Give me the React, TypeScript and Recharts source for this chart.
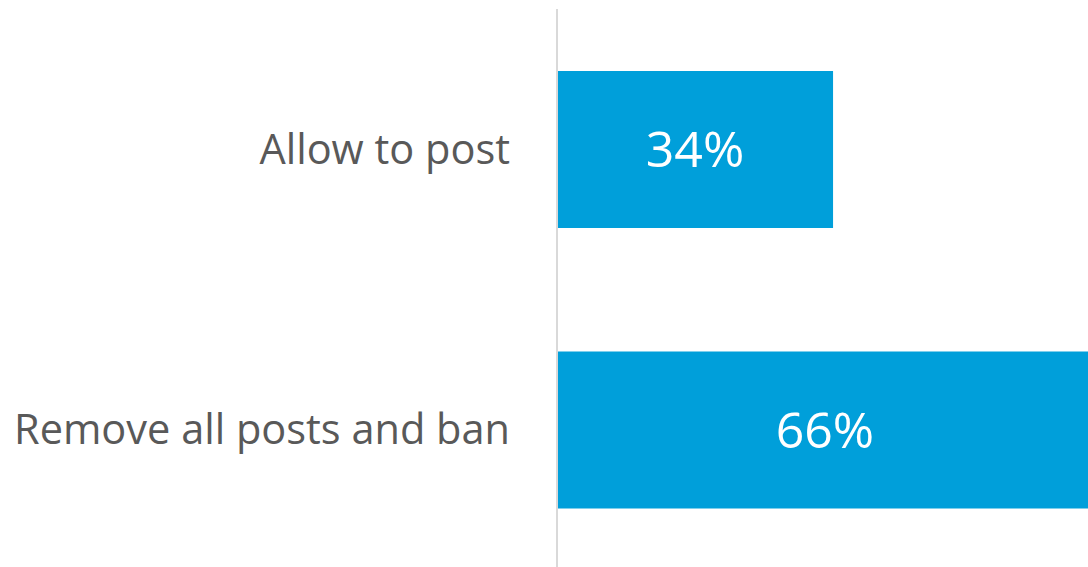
import React from 'react';
import { BarChart, Bar, XAxis, YAxis, LabelList } from 'recharts';

const categories = ['Allow to post', 'Remove all posts and ban'];
const shares = [34, 66];

const data = categories.map((name, i) => ({ name, share: shares[i] }));

const barColor = '#009fda';
const textGray = '#595959';

export default function App() {
  return (
    <div style={{ position: 'absolute', left: 0, top: 0, width: 1088, height: 567, overflow: 'hidden', background: '#fff' }}>
      <BarChart
        width={1088}
        height={567}
        data={data}
        layout="vertical"
        margin={{ top: 9, right: 0, bottom: -3, left: 0 }}
        barSize={157}
      >
        <XAxis type="number" domain={[0, 65.4]} allowDataOverflow hide />
        <YAxis
          type="category"
          dataKey="name"
          width={557}
          axisLine={{ stroke: '#d9d9d9', strokeWidth: 2 }}
          tickLine={false}
          tickMargin={41}
          tick={{ fill: textGray, fontSize: 41.5, fontFamily: 'Open Sans' }}
        />
        <Bar dataKey="share" fill={barColor} isAnimationActive={false}>
          <LabelList
            dataKey="share"
            position="center"
            formatter={(v: any) => `${v}%`}
            fill="#ffffff"
            style={{ fontSize: 50, fontFamily: 'Open Sans' }}
          />
        </Bar>
      </BarChart>
    </div>
  );
}
